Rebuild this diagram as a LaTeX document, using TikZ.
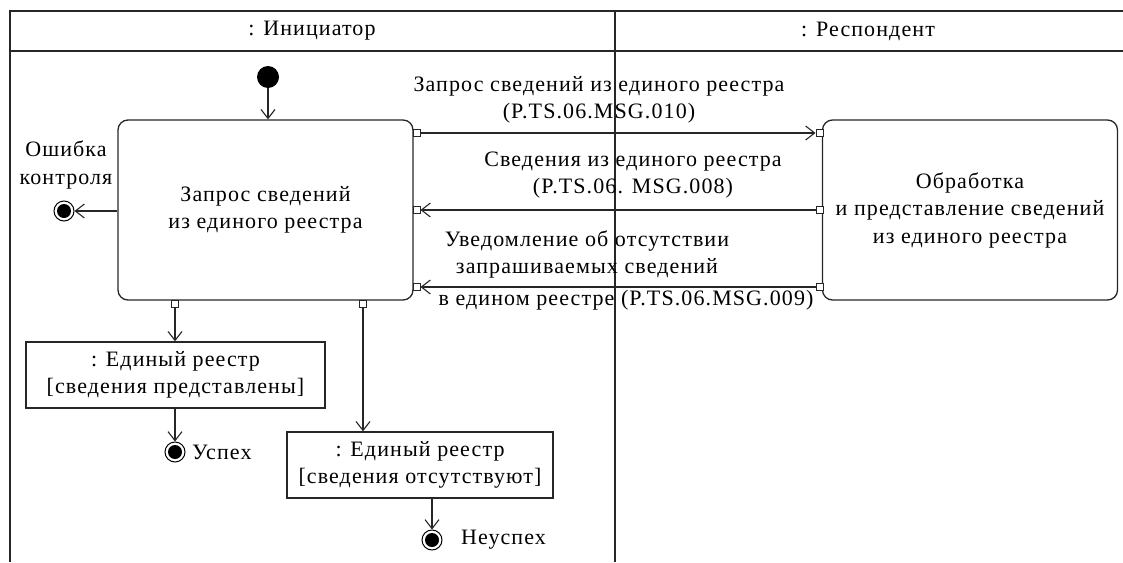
\documentclass[tikz,border=0pt]{standalone}
\usepackage{fontspec}
\setmainfont{Liberation Serif}[LetterSpace=5]
\usetikzlibrary{arrows.meta,calc}
\begin{document}
\begin{tikzpicture}[x=1pt,y=-1pt,
  every node/.style={font=\fontsize{22}{27.5}\selectfont},
  line/.style={line width=1.3pt, draw=black!85},
  arr/.style={line, -{Straight Barb[length=9pt,width=14pt,line width=1.1pt]}},
  action/.style={line, draw, rounded corners=10pt, minimum width=295pt, minimum height=180pt, align=center, inner sep=0pt},
  objbox/.style={line, draw, minimum height=66pt, align=center, inner sep=0pt},
  pinbox/.style={line, draw, fill=white, minimum size=7pt, inner sep=0pt, line width=1pt},
  initnode/.style={circle, fill=black, minimum size=22pt, inner sep=0pt},
  finalnode/.style={circle, draw, line width=1pt, minimum size=20pt, inner sep=0pt,
     path picture={\fill (path picture bounding box.center) circle (7pt);}},
  lbl/.style={align=center, inner sep=0pt}
]
\useasboundingbox (0,0) rectangle (1123,562);
% swimlane frame
\draw[line] (10,562) -- (10,11) -- (1123,11);
\draw[line] (10,51) -- (1123,51);
\draw[line] (615,11) -- (615,562);
\node[lbl] (lane1) at (312,31) {: Инициатор};
\node[lbl] (lane2) at (868,31) {: Респондент};

% actions
\node[action] (req) at (265.5,210) {Запрос сведений\\из единого реестра};
\node[action] (proc) at (970,210) {Обработка\\и представление сведений\\из единого реестра};

% pins
\node[pinbox] (rp1) at (416.5,133) {};
\node[pinbox] (rp2) at (416.5,210) {};
\node[pinbox] (rp3) at (416.5,287) {};
\node[pinbox] (pp1) at (819.5,133) {};
\node[pinbox] (pp2) at (819.5,210) {};
\node[pinbox] (pp3) at (819.5,287) {};
\node[pinbox] (bp1) at (175,303.5) {};
\node[pinbox] (bp2) at (363,303.5) {};

% initial and finals
\node[initnode] (init) at (268,77) {};
\node[finalnode] (ferr) at (64,211) {};
\node[finalnode] (fok) at (175,452) {};
\node[finalnode] (ffail) at (432,540) {};

% objects
\node[objbox, minimum width=299pt] (obj1) at (175.5,375) {: Единый реестр\\{[}сведения представлены{]}};
\node[objbox, minimum width=266pt] (obj2) at (420,465) {: Единый реестр\\{[}сведения отсутствуют{]}};

% labels
\node[lbl] (lerr) at (66,165) {Ошибка\\контроля};
\node[lbl, anchor=west] (lok) at (192,452) {Успех};
\node[lbl, anchor=west] (lfail) at (461,540) {Неуспех};
\node[lbl] (m1) at (599,100) {Запрос сведений из единого реестра\\(P.TS.06.MSG.010)};
\node[lbl] (m2) at (633,175) {Сведения из единого реестра\\(P.TS.06. MSG.008)};
\node[lbl] (m3) at (587,254.5) {Уведомление об отсутствии\\запрашиваемых сведений};
\node[lbl] (m3b) at (626,300) {в едином реестре (P.TS.06.MSG.009)};

% flows
\draw[arr] (init) -- (req.north -| init);
\draw[arr] (req.west |- ferr) -- (ferr);
\draw[arr] (rp1.east) -- (pp1.west);
\draw[arr] (pp2.west) -- (rp2.east);
\draw[arr] (pp3.west) -- (rp3.east);
\draw[arr] (bp1.south) -- (obj1.north -| bp1);
\draw[arr] (bp2.south) -- (obj2.north -| bp2);
\draw[arr] (obj1.south -| fok) -- (fok);
\draw[arr] (obj2.south -| ffail) -- (ffail);
\end{tikzpicture}
\end{document}
